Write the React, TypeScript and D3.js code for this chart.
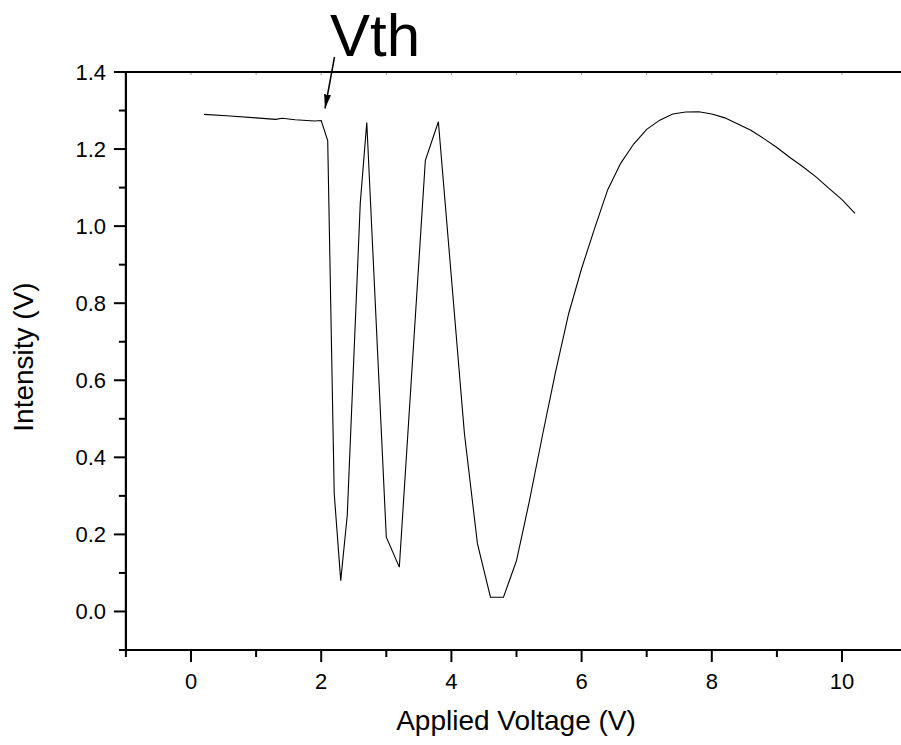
import React from "react";
import * as d3 from "d3";

const voltage = [0.2, 0.6, 1.0, 1.3, 1.4, 1.6, 1.9, 2.0, 2.1, 2.2, 2.3, 2.4, 2.6, 2.7, 3.0, 3.2, 3.6, 3.8, 4.2, 4.4, 4.6, 4.8, 5.0, 5.2, 5.4, 5.6, 5.8, 6.0, 6.2, 6.4, 6.6, 6.8, 7.0, 7.2, 7.4, 7.6, 7.8, 8.0, 8.2, 8.4, 8.6, 8.8, 9.0, 9.2, 9.4, 9.6, 9.8, 10.0, 10.2];
const intensity = [1.290, 1.286, 1.281, 1.277, 1.280, 1.276, 1.273, 1.274, 1.222, 0.306, 0.080, 0.249, 1.059, 1.269, 0.193, 0.115, 1.171, 1.271, 0.462, 0.176, 0.037, 0.037, 0.132, 0.288, 0.458, 0.622, 0.772, 0.890, 0.994, 1.094, 1.163, 1.213, 1.251, 1.275, 1.291, 1.296, 1.297, 1.291, 1.281, 1.265, 1.249, 1.227, 1.204, 1.178, 1.154, 1.128, 1.098, 1.069, 1.033];
const xTickLabels = [0, 2, 4, 6, 8, 10];
const yTickLabels = [0.0, 0.2, 0.4, 0.6, 0.8, 1.0, 1.2, 1.4];
const xTitle = "Applied Voltage (V)";
const yTitle = "Intensity (V)";
const annotation = "Vth";

const FONT = "'Liberation Sans', Arial, sans-serif";

export default function App() {
  const x = d3.scaleLinear().domain([-1, 11]).range([125.9, 907.1]);
  const y = d3.scaleLinear().domain([-0.1, 1.4]).range([650, 72]);
  const pts = voltage.map((v, i) => [v, intensity[i]] as [number, number]);
  const line = d3.line<[number, number]>().x(d => x(d[0])).y(d => y(d[1]));
  const xMinor = d3.range(-1, 12, 1);
  const yMinor = d3.range(-1, 15, 1).map(k => k / 10);
  const x0 = x(-1), x1 = x(11), yb = y(-0.1), yt = y(1.4);
  return (
    <svg width={901} height={745} style={{ position: "absolute", left: 0, top: 0, background: "#fff" }} fontFamily={FONT}>
      <rect x={0} y={0} width={901} height={745} fill="#fff" />
      {xMinor.map(v => (
        <line key={"tt" + v} x1={x(v)} x2={x(v)} y1={yt} y2={yt + 3} stroke="#999" strokeWidth={1} />
      ))}
      <path d={line(pts) || ""} fill="none" stroke="#000" strokeWidth={1.1} />
      <line x1={x0} x2={x1} y1={yt} y2={yt} stroke="#000" strokeWidth={2.2} />
      <line x1={x0} x2={x1} y1={yb} y2={yb} stroke="#000" strokeWidth={2.2} />
      <line x1={x0} x2={x0} y1={yt} y2={yb} stroke="#000" strokeWidth={2.2} />
      <line x1={x1} x2={x1} y1={yt} y2={yb} stroke="#000" strokeWidth={2.2} />
      {xMinor.map(v => {
        const major = v % 2 === 0;
        return <line key={"bt" + v} x1={x(v)} x2={x(v)} y1={yb} y2={yb + (major ? 12 : 7)} stroke="#000" strokeWidth={2} />;
      })}
      {xTickLabels.map(v => (
        <text key={"xl" + v} x={x(v)} y={689} textAnchor="middle" fontSize={22}>{String(v)}</text>
      ))}
      {yMinor.map(v => {
        const major = Math.abs(Math.round(v * 10)) % 2 === 0;
        return <line key={"lt" + v} x1={x0} x2={x0 - (major ? 12 : 7)} y1={y(v)} y2={y(v)} stroke="#000" strokeWidth={2} />;
      })}
      {yTickLabels.map(v => (
        <text key={"yl" + v} x={106} y={y(v)} dy="0.36em" textAnchor="end" fontSize={22}>{v.toFixed(1)}</text>
      ))}
      <text x={516} y={730} textAnchor="middle" fontSize={28}>{xTitle}</text>
      <text transform={`translate(33,357) rotate(-90)`} textAnchor="middle" fontSize={28}>{yTitle}</text>
      <text x={330} y={56} fontSize={60}>{annotation}</text>
      <defs>
        <marker id="arr" viewBox="0 0 14 7" refX={14} refY={3.5} markerWidth={14} markerHeight={7} markerUnits="userSpaceOnUse" orient="auto">
          <path d="M0,0 L14,3.5 L0,7 Z" fill="#000" />
        </marker>
      </defs>
      <line x1={334.5} y1={57} x2={325} y2={108.5} stroke="#000" strokeWidth={1.5} markerEnd="url(#arr)" />
    </svg>
  );
}
